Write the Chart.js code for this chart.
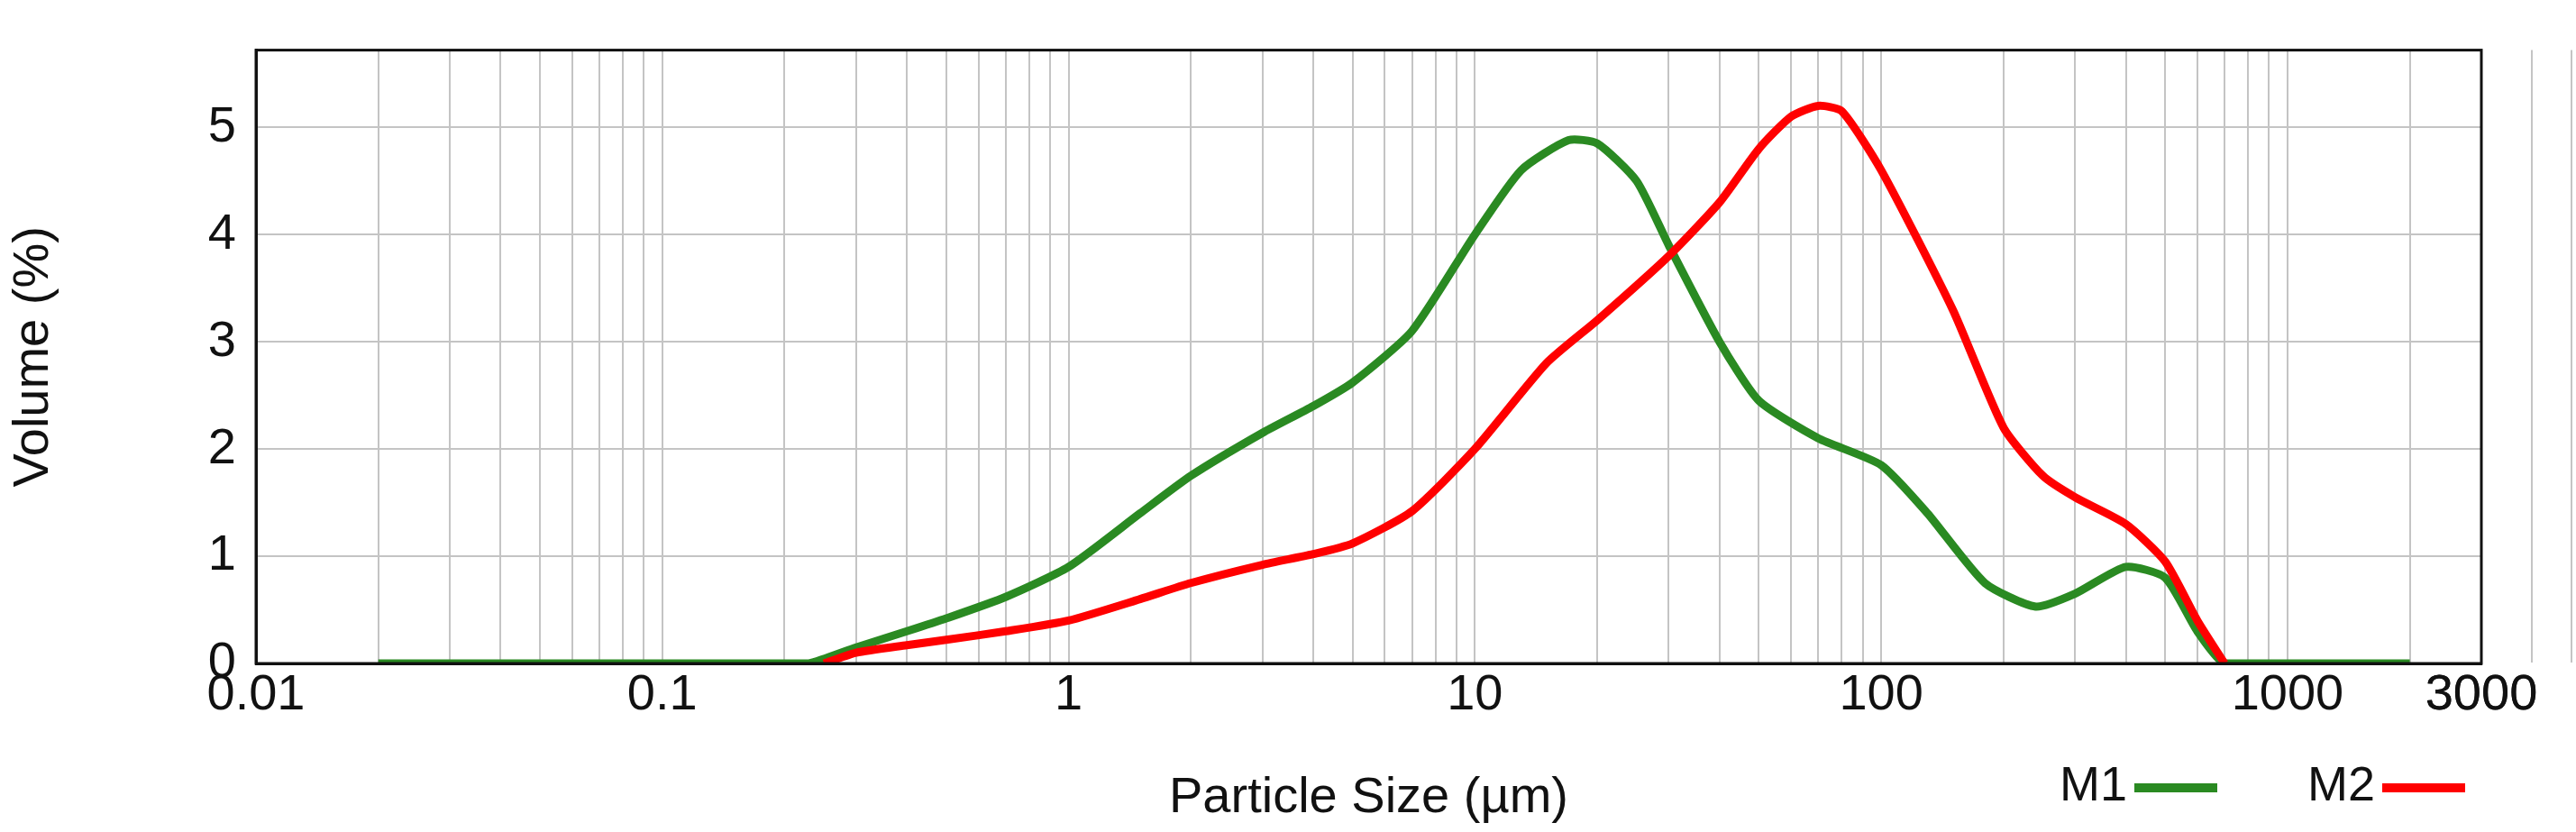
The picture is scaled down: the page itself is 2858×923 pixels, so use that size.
<!DOCTYPE html>
<html>
<head>
<meta charset="utf-8">
<script src="https://cdn.jsdelivr.net/npm/chart.js@4/dist/chart.umd.min.js"></script>
<style>
  body { margin: 0; background: #fff; }
  #wrap { position: relative; width: 2858px; height: 923px; }
  .leg { position: absolute; top: 838px; font: 54px "Liberation Sans", Arial, sans-serif; color: #111; }
  .leg span { display: inline-block; width: 92px; height: 10px; vertical-align: middle; margin-left: 8px; }
</style>
</head>
<body>
<div id="wrap">
  <canvas id="chart" width="2858" height="923"></canvas>
  <div class="leg" style="left:2285px">M1<span style="background:#2a8a22"></span></div>
  <div class="leg" style="left:2560px">M2<span style="background:#ff0000"></span></div>
</div>
<script>
const sizesM1 = [0.02, 0.05, 0.1, 0.2, 0.23, 0.3, 0.4, 0.5, 0.7, 1, 1.5, 2, 3, 4, 5, 7, 10, 13, 17, 20, 25, 30, 40, 50, 70, 100, 130, 180, 240, 300, 400, 500, 600, 700, 1000, 2000];
const volM1 = [0, 0, 0, 0, 0, 0.15, 0.3, 0.42, 0.62, 0.9, 1.4, 1.75, 2.15, 2.4, 2.62, 3.1, 4.0, 4.6, 4.88, 4.85, 4.5, 3.9, 3.0, 2.45, 2.1, 1.85, 1.4, 0.75, 0.53, 0.65, 0.9, 0.8, 0.3, 0, 0, 0];
const sizesM2 = [0.25, 0.3, 0.4, 0.5, 0.7, 1, 1.5, 2, 3, 4, 5, 7, 10, 15, 20, 30, 40, 50, 60, 70, 80, 100, 150, 200, 250, 300, 400, 500, 600, 700];
const volM2 = [0, 0.1, 0.17, 0.22, 0.3, 0.4, 0.6, 0.75, 0.92, 1.02, 1.12, 1.42, 2.0, 2.8, 3.2, 3.8, 4.3, 4.8, 5.1, 5.2, 5.15, 4.6, 3.3, 2.2, 1.75, 1.55, 1.3, 0.95, 0.4, 0];
const xTickLabels = [0.01, 0.1, 1, 10, 100, 1000, 3000];

const font = { family: '"Liberation Sans", Arial, sans-serif', size: 56 };

new Chart(document.getElementById('chart'), {
  type: 'line',
  data: {
    datasets: [
      { label: 'M2', data: sizesM2.map((x, i) => ({ x, y: volM2[i] })), borderColor: '#ff0000', borderWidth: 9, pointRadius: 0, tension: 0.2 },
      { label: 'M1', data: sizesM1.map((x, i) => ({ x, y: volM1[i] })), borderColor: '#2a8a22', borderWidth: 9, pointRadius: 0, tension: 0.2 }
    ]
  },
  options: {
    responsive: false,
    animation: false,
    devicePixelRatio: 1,
    layout: { padding: { top: 37, right: 105, left: 0, bottom: 0 } },
    plugins: { legend: { display: false }, tooltip: { enabled: false } },
    scales: {
      x: {
        type: 'logarithmic', min: 0.01, max: 3000,
        afterBuildTicks: s => {
          const t = [];
          for (let d = 0.01; d < 2000; d *= 10)
            for (let m = 1; m < 10; m++) t.push({ value: +(d * m).toPrecision(3) });
          t.push({ value: 3000 });
          s.ticks = t;
        },
        afterFit: s => { s.height = 187; },
        ticks: {
          autoSkip: false, maxRotation: 0, color: '#111', font, padding: 2,
          callback: v => xTickLabels.includes(v) ? String(v) : ''
        },
        grid: { color: c => c.tick && c.tick.value === 3000 ? 'rgba(0,0,0,0)' : '#c4c4c4', lineWidth: 2, drawTicks: false },
        border: { color: '#111', width: 3 },
        title: { display: true, text: 'Particle Size (µm)', color: '#111', font, padding: { top: 22 } }
      },
      y: {
        min: 0, max: 5.72,
        afterBuildTicks: s => { s.ticks = [0, 1, 2, 3, 4, 5].map(v => ({ value: v })); },
        afterFit: s => { s.width = 284; },
        ticks: { color: '#111', font, padding: 22 },
        grid: { color: '#c4c4c4', lineWidth: 2, drawTicks: false },
        border: { color: '#111', width: 3 },
        title: { display: true, text: 'Volume (%)', color: '#111', font, padding: { bottom: 40 } }
      }
    }
  },
  plugins: [{
    id: 'frame',
    afterDraw: c => {
      const a = c.chartArea, g = c.ctx;
      g.save(); g.strokeStyle = '#111'; g.lineWidth = 3;
      g.strokeRect(a.left, a.top, a.right - a.left, a.bottom - a.top);
      g.restore();
    }
  }]
});
</script>
</body>
</html>
